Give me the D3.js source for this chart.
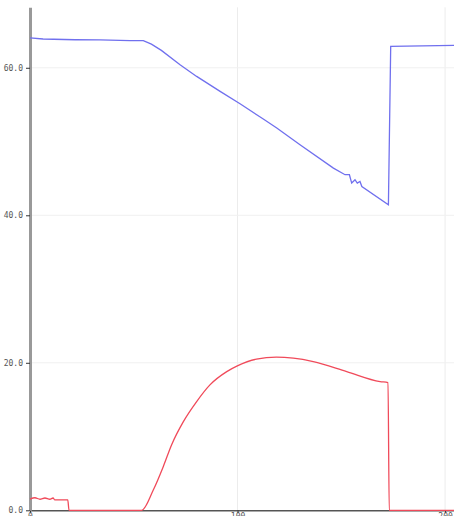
<!DOCTYPE html>
<html><head><meta charset="utf-8">
<script src="https://cdn.jsdelivr.net/npm/d3@7"></script>
<style>body{margin:0;background:#fff}svg{display:block}</style>
</head><body>
<script>
const xTicks = [0, 100, 200];
const yTicks = [0, 20, 40, 60];
const blueX = [0, 6.3, 21.7, 33.7, 48.2, 54.6, 58.5, 63.3, 72.3, 80.3, 91.6, 101.2, 112.4, 118.9, 130.1, 146.2, 151.8, 153.9, 155.0, 156.6, 157.7, 159.0, 159.9, 172.7, 173.8, 204.3];
const blueY = [64.05, 63.9, 63.8, 63.77, 63.68, 63.68, 63.2, 62.36, 60.42, 58.83, 56.8, 55.13, 53.05, 51.83, 49.57, 46.4, 45.5, 45.5, 44.37, 44.82, 44.37, 44.59, 43.9, 41.42, 62.9, 63.04];
const redX = [0, 2.4, 4.8, 7.2, 9.6, 11.1, 12, 18.2, 18.8, 53.8, 59.4, 64.2, 68.2, 73.9, 80.3, 86.7, 94.8, 99.9, 109.1, 118.7, 126.9, 136.5, 152.6, 168.7, 172.5, 173.1, 204.3];
const redY = [1.51, 1.7, 1.5, 1.67, 1.5, 1.67, 1.4, 1.4, 0, 0, 2.75, 5.92, 8.86, 12.02, 14.74, 17.0, 18.8, 19.58, 20.49, 20.76, 20.62, 20.16, 18.81, 17.45, 17.31, 0, 0];

const W = 454, H = 516;
const svg = d3.select("body").append("svg").attr("width", W).attr("height", H);
const x = d3.scaleLinear().domain([0, 204.3]).range([30, 454]);
const y = d3.scaleLinear().domain([0, 68.2]).range([510.3, 7.3]);

// grid
svg.append("g").selectAll("line").data(xTicks.slice(1)).join("line")
  .attr("x1", d => x(d)).attr("x2", d => x(d)).attr("y1", y(68.2)).attr("y2", y(0))
  .attr("stroke", "#ececec").attr("stroke-width", 1);
svg.append("g").selectAll("line").data(yTicks.slice(1)).join("line")
  .attr("x1", x(0)).attr("x2", W).attr("y1", d => y(d)).attr("y2", d => y(d))
  .attr("stroke", "#f0f0f0").attr("stroke-width", 1);

// x axis
const xa = svg.append("g").attr("transform", `translate(0,${y(0)})`)
  .call(d3.axisBottom(x).tickValues(xTicks).tickFormat(d3.format("d")).tickSize(3).tickSizeOuter(0));
xa.select(".domain").attr("stroke", "#555").attr("stroke-width", 1.5);
xa.selectAll(".tick line").attr("stroke", "#333");
xa.selectAll("text").attr("font-family", "DejaVu Sans Mono").attr("font-size", 8).attr("fill", "#555").attr("dy", "0.3em");

// y axis
const ya = svg.append("g").attr("transform", `translate(${x(0)},0)`)
  .call(d3.axisLeft(y).tickValues(yTicks).tickFormat(d3.format(".1f")).tickSize(4).tickSizeOuter(0));
ya.select(".domain").attr("stroke", "#999").attr("stroke-width", 3);
ya.selectAll(".tick line").attr("stroke", "#333");
ya.selectAll("text").attr("font-family", "DejaVu Sans Mono").attr("font-size", 8).attr("fill", "#555");

const lineLin = d3.line().x(d => x(d[0])).y(d => y(d[1]));
const lineSmooth = d3.line().x(d => x(d[0])).y(d => y(d[1])).curve(d3.curveMonotoneX);
svg.append("path").datum(blueX.map((v, i) => [v, blueY[i]]))
  .attr("d", lineLin).attr("fill", "none").attr("stroke", "#7070ee").attr("stroke-width", 1.3);
svg.append("path").datum(redX.map((v, i) => [v, redY[i]]))
  .attr("d", lineSmooth).attr("fill", "none").attr("stroke", "#f04a5a").attr("stroke-width", 1.3);
</script>
</body></html>
